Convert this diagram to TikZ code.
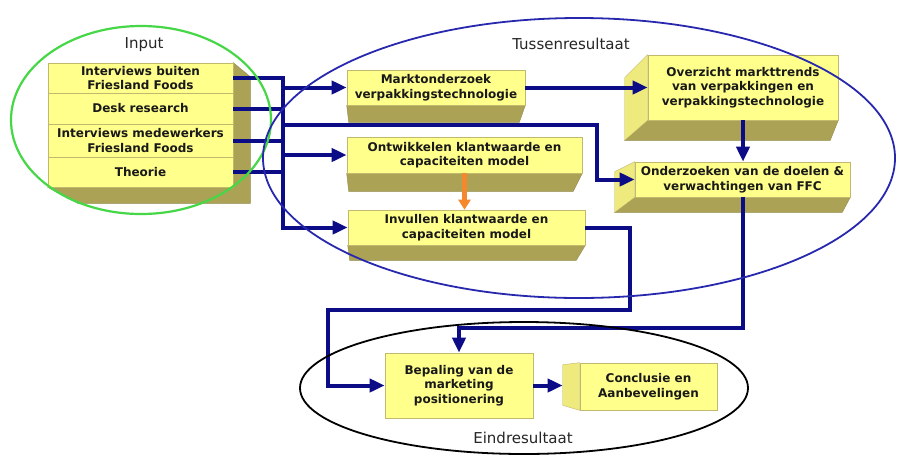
\documentclass[tikz,border=0pt]{standalone}
\usepackage{fontspec}
\setmainfont{DejaVu Sans}
\usetikzlibrary{arrows.meta,calc,backgrounds,shapes.geometric}

\definecolor{face}{RGB}{255,255,140}
\definecolor{edge}{RGB}{195,185,110}
\definecolor{under}{RGB}{172,162,86}
\definecolor{flank}{RGB}{238,234,125}
\definecolor{navy}{RGB}{12,12,135}
\definecolor{ringblue}{RGB}{40,40,175}
\definecolor{ringgreen}{RGB}{70,215,70}
\definecolor{flow}{RGB}{245,135,45}

\begin{document}
\begin{tikzpicture}[x=1pt,y=-1pt,
  box/.style={draw=edge,line width=0.6pt,fill=face,inner sep=0pt,align=center,
    text=black!90,font=\fontsize{12}{14.5}\selectfont\bfseries},
  underside/.style={fill=under,draw=under!85!black,line width=0.4pt},
  flankside/.style={fill=flank,draw=edge,line width=0.4pt},
  link/.style={draw=navy,line width=4pt},
  arr/.style={link,-{Triangle[length=15pt,width=13pt]}},
  orangearr/.style={draw=flow,line width=4.5pt,-{Triangle[length=10pt,width=12pt]}},
  ring/.style={ellipse,inner sep=0pt,line width=1.8pt},
  lab/.style={font=\fontsize{15}{17}\selectfont,text=black!85}
]
\useasboundingbox (0,0) rectangle (897,456);

% input stack
\node[box,minimum width=185pt,minimum height=30pt] (in1) at (140.5,78) {Interviews buiten\\Friesland Foods};
\node[box,minimum width=185pt,minimum height=31pt] (in2) at (140.5,108.5) {Desk research};
\node[box,minimum width=185pt,minimum height=33pt] (in3) at (140.5,140.5) {Interviews medewerkers\\Friesland Foods};
\node[box,minimum width=185pt,minimum height=30pt] (in4) at (140.5,172) {Theorie};

% intermediate results
\node[box,minimum width=178pt,minimum height=35pt] (mk) at (436,87.5) {Marktonderzoek\\verpakkingstechnologie};
\node[box,minimum width=235pt,minimum height=36pt] (ow) at (464.5,155) {Ontwikkelen klantwaarde en\\capaciteiten model};
\node[box,minimum width=237pt,minimum height=35pt] (iv) at (466.5,227.5) {Invullen klantwaarde en\\capaciteiten model};
\node[box,minimum width=190pt,minimum height=65pt] (ov) at (743,87.5) {Overzicht markttrends\\van verpakkingen en\\verpakkingstechnologie};
\node[box,minimum width=215pt,minimum height=35pt] (od) at (742.5,179.5) {Onderzoeken van de doelen \&\\verwachtingen van FFC};

% final results
\node[box,minimum width=148pt,minimum height=65pt] (bp) at (459,385.5) {Bepaling van de\\marketing\\positionering};
\node[box,minimum width=137pt,minimum height=47pt] (cc) at (648.5,386.5) {Conclusie en\\Aanbevelingen};

% page and extruded faces
\begin{pgfonlayer}{background}
  \fill[white] (0,0) rectangle (897,456);
  \fill[underside] (in1.north east) -- ++(17,14) -- ($(in4.south east)+(17,16)$)
    -- ($(in4.south west)+(30,16)$) -- (in4.south west) -- cycle;
  \fill[underside] (mk.south west) -- ++(2,17) -- ($(mk.south east)+(-6,17)$) -- (mk.south east) -- cycle;
  \fill[underside] (ow.south west) -- ++(2,18) -- ($(ow.south east)+(-9,18)$) -- (ow.south east) -- cycle;
  \fill[underside] (iv.south west) -- ++(2,15) -- ($(iv.south east)+(-9,15)$) -- (iv.south east) -- cycle;
  \fill[underside] (ov.south west) -- ++(-23,20) -- ($(ov.south east)+(-8,20)$) -- (ov.south east) -- cycle;
  \fill[flankside] (ov.north west) -- ++(-23,23) -- ($(ov.south west)+(-23,20)$) -- (ov.south west) -- cycle;
  \fill[underside] (od.south west) -- ++(-20,15) -- ($(od.south east)+(-8,15)$) -- (od.south east) -- cycle;
  \fill[flankside] (od.north west) -- ++(-20,10) -- ($(od.south west)+(-20,15)$) -- (od.south west) -- cycle;
  \fill[flankside] (cc.north west) -- ++(-17,2) -- ($(cc.south west)+(-17,-5)$) -- (cc.south west) -- cycle;
\end{pgfonlayer}

% connectors
\coordinate (busT) at (283,78);
\coordinate (j1) at (597,125);
\coordinate (j3) at (630,310);
\coordinate (j4) at (328,310);

\draw[arr] (in1.east) -- (busT) -- (busT |- iv.west) -- (iv.west);
\foreach \r in {in2,in3,in4} \draw[link] (\r.east) -- (\r.east -| busT);
\draw[arr] (busT |- mk.west) -- (mk.west);
\draw[arr] (busT |- ow.west) -- (ow.west);
\draw[arr] (busT |- j1) -- (j1) |- (od.west);
\draw[arr] (mk.east) -- (ov.west);
\draw[arr] (ov.south) -- (ov.south |- od.north);
\draw[arr] (od.south) -- ++(0,131) -| (bp.north);
\draw[arr] (iv.east) -| (j3) -- (j4) |- (bp.west);
\draw[arr,shorten >=17pt] (bp.east) -- (bp.east -| cc.west);
\draw[orangearr] (ow.south) -- (ow.south |- iv.north);

% grouping outlines
\node[ring,draw=ringgreen,line width=2.2pt,minimum width=260pt,minimum height=188pt] (gInput) at (141,120) {};
\node[ring,draw=ringblue,minimum width=632pt,minimum height=280pt] (gMid) at (579,158) {};
\node[ring,draw=black,minimum width=448pt,minimum height=132pt] (gEnd) at (524,388) {};

\node[lab] (tInput) at (144,45) {Input};
\node[lab] (tMid) at (571,44) {Tussenresultaat};
\node[lab] (tEnd) at (523,438) {Eindresultaat};
\end{tikzpicture}
\end{document}
